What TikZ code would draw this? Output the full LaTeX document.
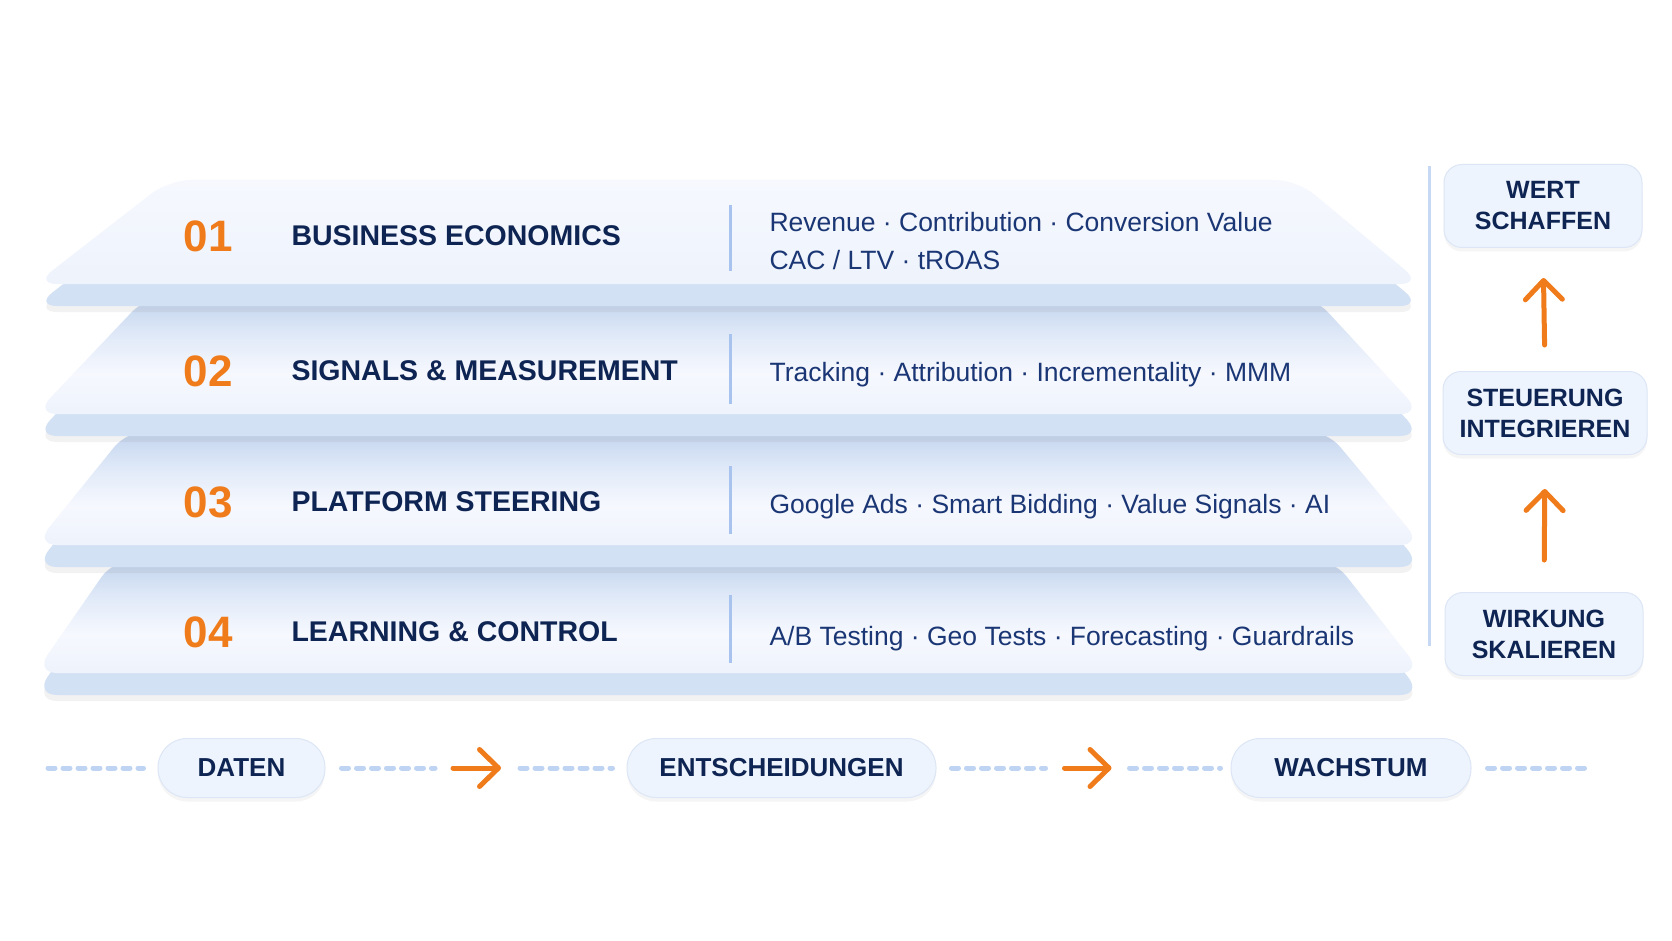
\documentclass[tikz,border=0pt]{standalone}
\usepackage{fontspec}
\setmainfont{Liberation Sans}
\usetikzlibrary{positioning,arrows.meta,shadows}

\definecolor{navy}{HTML}{0E2452}
\definecolor{descblue}{HTML}{1A3674}
\definecolor{orng}{HTML}{EF7B1B}
\definecolor{facetop}{HTML}{F6F8FE}
\definecolor{facemid}{HTML}{E4ECF9}
\definecolor{facebot}{HTML}{EEF3FC}
\definecolor{faceshade}{HTML}{C2D4EE}
\definecolor{sidecol}{HTML}{D3E1F5}
\definecolor{sepblue}{HTML}{A8C4EE}
\definecolor{railblue}{HTML}{C6D8F3}
\definecolor{dashblue}{HTML}{BFD4F2}
\definecolor{pillfill}{HTML}{EEF4FD}
\definecolor{pillline}{HTML}{DCE6F6}

% lower layers: darker band under the layer above
\pgfdeclareverticalshading{layershade}{100bp}{color(0bp)=(facebot); color(25bp)=(facebot);
  color(42bp)=(facetop); color(56bp)=(facemid); color(75bp)=(faceshade); color(100bp)=(faceshade)}
\pgfdeclareverticalshading{topshade}{100bp}{color(0bp)=(facebot); color(25bp)=(facebot);
  color(75bp)=(facetop); color(100bp)=(facetop)}

% #1 top y, #2 top-left x, #3 top-right x, #4 face bottom y, #5 shading
\newcommand{\slablayer}[5]{
  \fill[sidecol, rounded corners=22pt,
    drop shadow={opacity=0.10, shadow xshift=0pt, shadow yshift=-6pt}]
    (#2,#1+22) -- (#3,#1+22) -- (1422,#4+22) -- (35,#4+22) -- cycle;
  \shade[shading=#5, rounded corners=22pt]
    (#2,#1) -- (#3,#1) -- (1422,#4) -- (35,#4) -- cycle;
}

\tikzset{
  num/.style={anchor=west, text=orng, font=\fontsize{44}{50}\selectfont\bfseries},
  head/.style={anchor=west, text=navy, font=\fontsize{28.5}{34}\selectfont\bfseries},
  desc/.style={anchor=west, text=descblue, align=left, font=\fontsize{26.5}{38}\selectfont},
  sep/.style={draw=sepblue, line width=3pt},
  stepcard/.style={rounded corners=18pt, fill=pillfill, draw=pillline, line width=1pt,
    minimum width=198pt, minimum height=83pt, align=center, text=navy,
    font=\fontsize{25}{31}\selectfont\bfseries,
    drop shadow={opacity=0.08, shadow xshift=0pt, shadow yshift=-4pt}},
  pill/.style={rounded corners=29pt, fill=pillfill, draw=pillline, line width=1pt,
    minimum height=59pt, text=navy, font=\fontsize{26}{30}\selectfont\bfseries,
    drop shadow={opacity=0.08, shadow xshift=0pt, shadow yshift=-4pt}},
  flowarrow/.style={draw=orng, line width=5pt, line cap=round,
    -{Straight Barb[round, length=19pt, width=37pt]}},
  dashline/.style={draw=dashblue, line width=5pt, line cap=round, dash pattern=on 7pt off 8pt}
}

\begin{document}
\begin{tikzpicture}[x=1pt, y=-1pt]
  \useasboundingbox[fill=white] (0,0) rectangle (1672,941);

  % layers, bottom one first
  \slablayer{559}{114}{1333}{673}{layershade}
  \slablayer{430}{128}{1326}{545}{layershade}
  \slablayer{296}{147}{1313}{414}{layershade}
  \slablayer{180}{169}{1297}{284}{topshade}

  % layer texts
  \node[num] (n1) at (180,236) {01};
  \node[head] (h1) at (288,236) {BUSINESS ECONOMICS};
  \draw[sep] (730,205) -- (730,271);
  \node[desc] (d1) at (766,241) {Revenue · Contribution · Conversion Value\\CAC / LTV · tROAS};

  \node[num] (n2) at (180,371) {02};
  \node[head] (h2) at (288,371) {SIGNALS \& MEASUREMENT};
  \draw[sep] (730,334) -- (730,404);
  \node[desc] (d2) at (766,375) {Tracking · Attribution · Incrementality · MMM};

  \node[num] (n3) at (180,502) {03};
  \node[head] (h3) at (288,502) {PLATFORM STEERING};
  \draw[sep] (730,466) -- (730,534);
  \node[desc] (d3) at (766,507) {Google Ads · Smart Bidding · Value Signals · AI};

  \node[num] (n4) at (180,632) {04};
  \node[head] (h4) at (288,632) {LEARNING \& CONTROL};
  \draw[sep] (730,595) -- (730,663);
  \node[desc] (d4) at (766,639) {A/B Testing · Geo Tests · Forecasting · Guardrails};

  % right column
  \draw[draw=railblue, line width=3pt] (1429,166) -- (1429,646);
  \node[stepcard] (wert) at (1543,206) {WERT\\SCHAFFEN};
  \node[stepcard, minimum width=204pt] (steu) at (1545,413) {STEUERUNG\\INTEGRIEREN};
  \node[stepcard] (wirk) at (1544,634) {WIRKUNG\\SKALIEREN};

  \draw[flowarrow, shorten <=32pt, shorten >=34pt] (wirk.north) -- (steu.south);
  \draw[flowarrow, shorten <=26pt, shorten >=30pt] (steu.north) -- (wert.south);

  % bottom flow
  \node[pill, minimum width=167pt] (daten) at (241.5,768) {DATEN};
  \node[pill, minimum width=309pt] (entsch) at (781.5,768) {ENTSCHEIDUNGEN};
  \node[pill, minimum width=240pt] (wachs) at (1351,768) {WACHSTUM};
  \coordinate (lstart) at (48,768);
  \coordinate (rend) at (1591,768);
  \path (daten.east) -- (entsch.west) coordinate[midway] (m1);
  \path (entsch.east) -- (wachs.west) coordinate[midway] (m2);

  \draw[dashline] (lstart) -- ([xshift=-14pt]daten.west);
  \draw[dashline] ([xshift=16pt]daten.east) -- ([xshift=-41pt]m1);
  \draw[flowarrow] ([xshift=-23pt]m1) -- ([xshift=25pt]m1);
  \draw[dashline] ([xshift=44pt]m1) -- ([xshift=-14pt]entsch.west);
  \draw[dashline] ([xshift=15pt]entsch.east) -- ([xshift=-38pt]m2);
  \draw[flowarrow] ([xshift=-19pt]m2) -- ([xshift=28pt]m2);
  \draw[dashline] ([xshift=46pt]m2) -- ([xshift=-10pt]wachs.west);
  \draw[dashline] ([xshift=16pt]wachs.east) -- (rend);
\end{tikzpicture}
\end{document}
